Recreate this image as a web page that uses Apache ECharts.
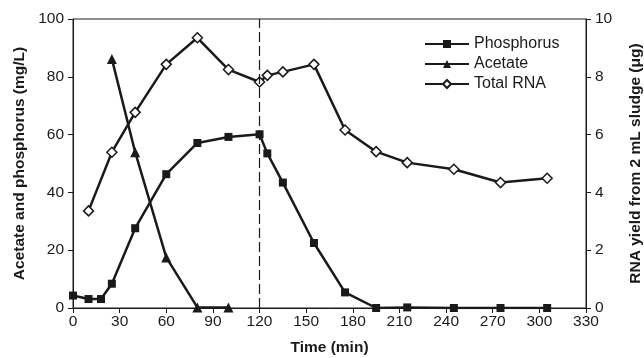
<!DOCTYPE html>
<html>
<head>
<meta charset="utf-8">
<script src="https://cdn.jsdelivr.net/npm/echarts@6/dist/echarts.min.js"></script>
<style>
  html, body { margin: 0; padding: 0; background: #fff; }
  #chart { width: 644px; height: 358px; }
</style>
</head>
<body>
<div id="chart"></div>
<script>
// time points (min) and readings taken off the figure
const phosTime = [0, 10, 18, 25, 40, 60, 80, 100, 120, 125, 135, 155, 175, 195, 215, 245, 275, 305]
const phosVal = [4.3, 3.1, 3.1, 8.4, 27.6, 46.3, 57.1, 59.2, 60.1, 53.5, 43.4, 22.5, 5.4, 0, 0.2, 0, 0, 0]

const acetTime = [25, 40, 60, 80, 100]
const acetVal = [86.2, 53.9, 17.5, 0.2, 0.2]

const rnaTime = [10, 25, 40, 60, 80, 100, 120, 125, 135, 155, 175, 195, 215, 245, 275, 305]
const rnaVal = [3.36, 5.39, 6.77, 8.43, 9.35, 8.25, 7.82, 8.05, 8.17, 8.43, 6.16, 5.41, 5.03, 4.80, 4.34, 4.49]

const switchTime = 120

const pair = (xs, ys) => xs.map((x, i) => [x, ys[i]])

const ink = '#1a1a1a'
const font = 'Liberation Sans, Arial, sans-serif'

const chart = echarts.init(document.getElementById('chart'), null, { renderer: 'canvas' })

const axisCommon = {
    axisLine: { show: true, lineStyle: { color: ink, width: 1 } },
    axisTick: { show: true, inside: false, length: 5, lineStyle: { color: ink } },
    splitLine: { show: false },
    axisLabel: { color: ink, fontSize: 15.5, fontFamily: font },
    nameTextStyle: { color: ink, fontSize: 15.5, fontWeight: 'bold', fontFamily: font },
}

const option = {
    animation: false,
    backgroundColor: '#fff',
    grid: {
        left: 73, right: 58, top: 19, bottom: 50,
        outerBoundsMode: 'none',
        show: true, borderColor: ink, borderWidth: 1,
    },
    legend: {
        orient: 'vertical',
        left: 419,
        top: 31,
        itemWidth: 44,
        itemHeight: 10,
        itemGap: 4,
        textStyle: { color: ink, fontSize: 16, fontFamily: font },
        data: ['Phosphorus', 'Acetate', 'Total RNA'],
    },
    xAxis: {
        ...axisCommon,
        type: 'value',
        min: 0, max: 330, interval: 30,
        name: 'Time (min)',
        nameLocation: 'middle',
        nameGap: 32,
        axisLabel: { ...axisCommon.axisLabel, margin: 6 },
    },
    yAxis: [
        {
            ...axisCommon,
            type: 'value',
            min: 0, max: 100, interval: 20,
            name: 'Acetate and phosphorus (mg/L)',
            nameLocation: 'middle',
            nameGap: 40,
            axisLabel: { ...axisCommon.axisLabel, margin: 9 },
        },
        {
            ...axisCommon,
            type: 'value',
            position: 'right',
            min: 0, max: 10, interval: 2,
            name: 'RNA yield from 2 mL sludge (μg)',
            nameLocation: 'middle',
            nameGap: 42,
            nameRotate: 90,
            axisLabel: { ...axisCommon.axisLabel, margin: 9 },
        },
    ],
    series: [
        {
            name: 'Phosphorus',
            type: 'line',
            data: pair(phosTime, phosVal),
            symbol: 'rect',
            symbolSize: 8,
            lineStyle: { color: ink, width: 2.5 },
            itemStyle: { color: ink },
            markLine: {
                silent: true,
                symbol: 'none',
                label: { show: false },
                lineStyle: { color: ink, width: 1.2, type: [10, 4] },
                data: [{ xAxis: switchTime }],
            },
        },
        {
            name: 'Acetate',
            type: 'line',
            data: pair(acetTime, acetVal),
            symbol: 'triangle',
            symbolSize: 10,
            lineStyle: { color: ink, width: 2.5 },
            itemStyle: { color: ink },
        },
        {
            name: 'Total RNA',
            type: 'line',
            yAxisIndex: 1,
            data: pair(rnaTime, rnaVal),
            symbol: 'diamond',
            symbolSize: 10,
            lineStyle: { color: ink, width: 2.5 },
            itemStyle: { color: '#fff', borderColor: ink, borderWidth: 1.5 },
        },
    ],
}

chart.setOption(option)
</script>
</body>
</html>
